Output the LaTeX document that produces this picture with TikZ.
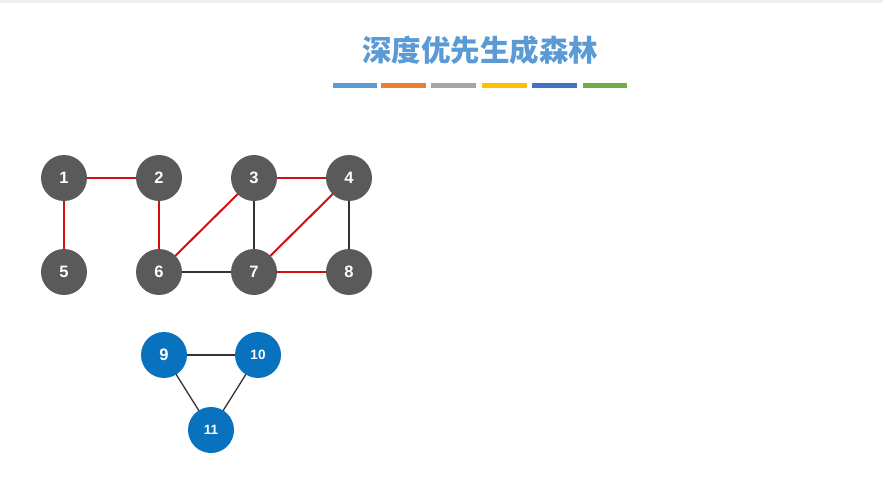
\documentclass[tikz,border=0pt]{standalone}
\usepackage{fontspec}
\setmainfont{Liberation Sans}
\newfontfamily\cjk{Noto Sans CJK SC}
\definecolor{nodegray}{HTML}{5A5A5A}
\definecolor{nodeblue}{HTML}{0872BE}
\definecolor{edgered}{HTML}{D01010}
\definecolor{titleblue}{HTML}{5B9BD5}
\definecolor{barA}{HTML}{5B9BD5}
\definecolor{barB}{HTML}{ED7D31}
\definecolor{barC}{HTML}{A5A5A5}
\definecolor{barD}{HTML}{FFC000}
\definecolor{barE}{HTML}{4472C4}
\definecolor{barF}{HTML}{70AD47}
\begin{document}
\begin{tikzpicture}[x=1pt,y=-1pt,
  vtx/.style={circle,fill=nodegray,minimum size=46pt,inner sep=0pt,text=white,font=\bfseries\fontsize{16.5}{16.5}\selectfont},
  bvtx/.style={circle,fill=nodeblue,minimum size=46pt,inner sep=0pt,text=white,font=\bfseries\fontsize{16.5}{16.5}\selectfont},
  small/.style={font=\bfseries\fontsize{13.5}{14}\selectfont},
  tree/.style={draw=edgered,line width=2pt},
  plain/.style={draw=black!80,line width=1.3pt},
  bar/.style={line width=5pt}]
\useasboundingbox (0,0) rectangle (883,478);
\fill[white] (0,0) rectangle (883,478);
\fill[black!6] (0,0) rectangle (883,3);
\node[text=titleblue,font=\cjk\fontsize{29.5}{29.5}\selectfont\bfseries] (title) at (480,50) {深度优先生成森林};
\foreach \a/\b/\c [count=\i] in {333/377/barA,381/426/barB,431/476/barC,482/527/barD,532/577/barE,583/627/barF}
  \draw[bar,\c] (\a,86) -- (\b,86);
\coordinate (bars) at (480,86);
\coordinate (p1) at (64,178); \coordinate (p2) at (159,178);
\coordinate (p3) at (254,178); \coordinate (p4) at (349,178);
\coordinate (p5) at (64,272); \coordinate (p6) at (159,272);
\coordinate (p7) at (254,272); \coordinate (p8) at (349,272);
\coordinate (p9) at (164,355); \coordinate (p10) at (258,355);
\coordinate (p11) at (211,430);
\draw[tree] (p1) -- (p2);
\draw[tree] (p1) -- (p5);
\draw[tree] (p2) -- (p6);
\draw[tree] (p3) -- (p6);
\draw[tree] (p3) -- (p4);
\draw[tree] (p4) -- (p7);
\draw[tree] (p7) -- (p8);
\draw[plain] (p6) -- (p7);
\draw[plain] (p3) -- (p7);
\draw[plain] (p4) -- (p8);
\draw[plain] (p9) -- (p10);
\draw[plain] (p9) -- (p11);
\draw[plain] (p10) -- (p11);
\node[vtx] (n1) at (p1) {1};
\node[vtx] (n2) at (p2) {2};
\node[vtx] (n3) at (p3) {3};
\node[vtx] (n4) at (p4) {4};
\node[vtx] (n5) at (p5) {5};
\node[vtx] (n6) at (p6) {6};
\node[vtx] (n7) at (p7) {7};
\node[vtx] (n8) at (p8) {8};
\node[bvtx] (n9) at (p9) {9};
\node[bvtx,small] (n10) at (p10) {10};
\node[bvtx,small] (n11) at (p11) {11};
\end{tikzpicture}
\end{document}
